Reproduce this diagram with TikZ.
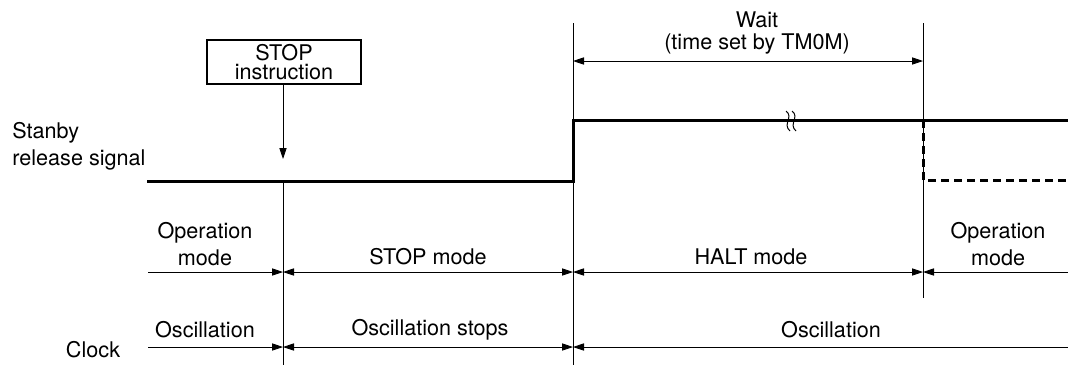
\documentclass[tikz,border=0pt]{standalone}
\usepackage{fontspec}
\setmainfont{TeX Gyre Heros}
\usepackage{tikz}
\usetikzlibrary{arrows.meta}

\begin{document}
\begin{tikzpicture}[
        x=0.5pt, y=-0.5pt,
        txt/.style={font=\fontsize{10.8}{13.5}\selectfont, align=center, inner sep=0pt},
        cmdbox/.style={draw, line width=1.3pt, minimum width=77pt, minimum height=22pt,
                       inner sep=0pt, font=\fontsize{10.8}{9.5}\selectfont, align=center},
        signal/.style={line width=1.5pt},
        marker/.style={line width=0.4pt},
        tip/.style={Triangle[length=5.5pt, width=3.6pt]},
        span/.style={line width=0.4pt, {Triangle[length=5.5pt, width=3.6pt]}-{Triangle[length=5.5pt, width=3.6pt]}},
        toend/.style={line width=0.4pt, -{Triangle[length=5.5pt, width=3.6pt]}},
      ]
        \useasboundingbox (0,0) rectangle (1068,365);
        % Istanti principali
        \coordinate (sigL)  at (147,181);
        \coordinate (tStop) at (283,181);
        \coordinate (tRise) at (573,181);
        \coordinate (tHigh) at (573,120);
        \coordinate (tEnd)  at (923,120);
        \coordinate (tLow)  at (923,180);
        \coordinate (sigR)  at (1068,120);
        \coordinate (sigRL) at (1068,180);
        % Istruzione STOP
        \node[cmdbox] (stop) at (284,62) {STOP\\instruction};
        \coordinate (stopTip) at (283,159);
        \draw[toend] (stop.south -| stopTip) -- (stopTip);
        % Segnale di rilascio
        \node[txt, align=left, anchor=west] (sigName) at (12,146) {Stanby\\release signal};
        \draw[signal] (sigL) -- (tRise) -- (tHigh) -- (sigR);
        \draw[signal, dash pattern=on 4pt off 2.5pt] (tEnd) -- (tLow) -- (sigRL);
        % Interruzione sulla linea alta
        \draw[line width=0.5pt] (786,111) .. controls (794,117) and (782,124) .. (790,131);
        \draw[line width=0.5pt] (792,111) .. controls (800,117) and (788,124) .. (796,131);
        % Linee verticali
        \coordinate (vA) at (283,365);
        \coordinate (vBt) at (573,23);
        \coordinate (vBb) at (573,365);
        \coordinate (vCt) at (923,23);
        \coordinate (vCb) at (923,298);
        \draw[marker] (tStop) -- (vA);
        \draw[marker] (vBt) -- (vBb);
        \draw[marker] (vCt) -- (vCb);
        % Attesa
        \coordinate (waitL) at (573,61);
        \coordinate (waitR) at (923,61);
        \draw[span] (waitL) -- (waitR);
        \node[txt, font=\fontsize{10.8}{11}\selectfont] (wait) at (757,33) {Wait\\(time set by TM0M)};
        % Modi operativi
        \coordinate (modeL) at (148,272);
        \coordinate (modeA) at (283,272);
        \coordinate (modeB) at (573,272);
        \coordinate (modeC) at (923,272);
        \coordinate (modeR) at (1068,272);
        \draw[toend] (modeL) -- (modeA);
        \draw[span] (modeA) -- (modeB);
        \draw[span] (modeB) -- (modeC);
        \draw[toend] (modeR) -- (modeC);
        \node[txt] (opL)   at (205,244) {Operation\\mode};
        \node[txt] (stopM) at (428,257) {STOP mode};
        \node[txt] (haltM) at (751,257) {HALT mode};
        \node[txt] (opR)   at (998,244) {Operation\\mode};
        % Clock
        \coordinate (clkL) at (148,347);
        \coordinate (clkA) at (283,347);
        \coordinate (clkB) at (573,347);
        \coordinate (clkR) at (1068,347);
        \draw[toend] (clkL) -- (clkA);
        \draw[span] (clkA) -- (clkB);
        \draw[toend] (clkR) -- (clkB);
        \node[txt] (clock)  at (93,350)  {Clock};
        \node[txt] (oscL)   at (205,330) {Oscillation};
        \node[txt] (oscOff) at (430,330) {Oscillation stops};
        \node[txt] (oscR)   at (831,330) {Oscillation};
      \end{tikzpicture}
\end{document}
